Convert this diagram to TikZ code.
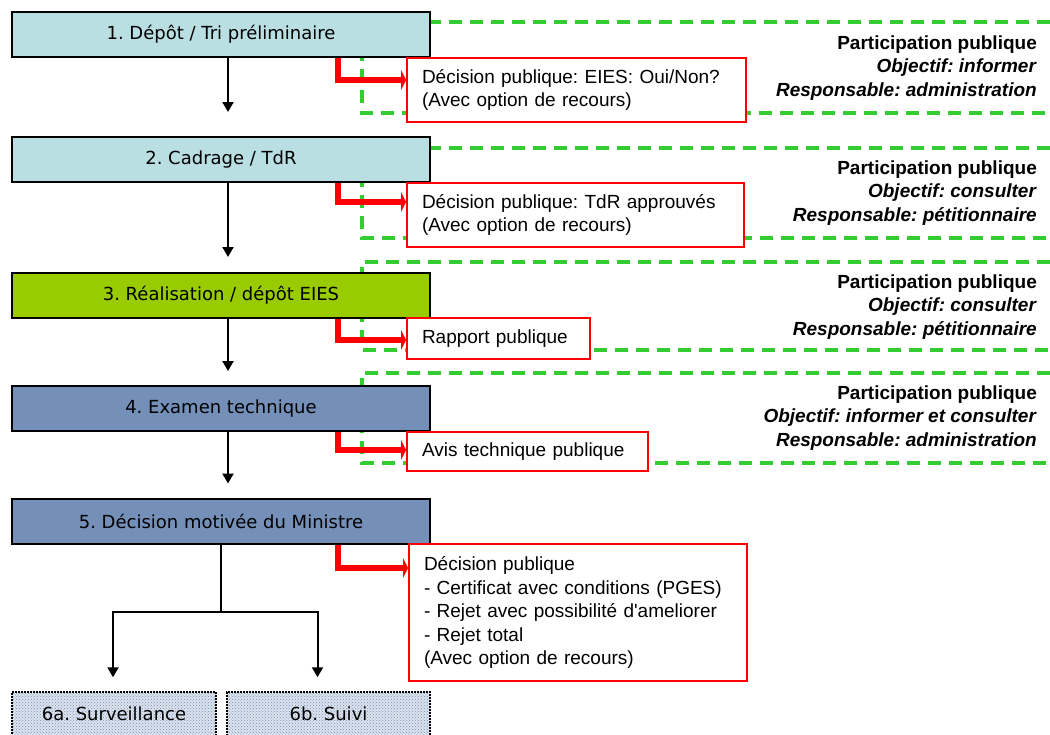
\documentclass[tikz,border=0pt]{standalone}
\usepackage{fontspec}
\setmainfont{Liberation Sans}
\newfontfamily\dejavu{DejaVu Sans}
\frenchspacing
\usetikzlibrary{arrows.meta}
\usetikzlibrary{patterns}
\definecolor{cyanpale}{RGB}{185,223,226}
\definecolor{vertpomme}{RGB}{153,204,0}
\definecolor{bleuacier}{RGB}{116,144,184}
\definecolor{vertpp}{RGB}{51,204,51}
\tikzset{etape/.style={draw,line width=2pt,minimum width=418pt,minimum height=45pt,inner sep=0pt,font=\dejavu\fontsize{18}{22}\selectfont}}
\tikzset{decision/.style={draw=red,line width=2pt,fill=white,anchor=north west,inner xsep=15pt,inner ysep=4pt,align=left,font=\fontsize{19}{23.5}\selectfont}}
\tikzset{suivi/.style={draw,line width=1.5pt,dash pattern=on 2pt off 1pt,preaction={fill=bleuacier!25},pattern=crosshatch dots,pattern color=bleuacier,minimum height=44pt,inner sep=0pt,font=\dejavu\fontsize{18}{22}\selectfont}}
\tikzset{particip/.style={anchor=east,align=right,inner sep=0pt,font=\bfseries\fontsize{19}{23.5}\selectfont}}
\tikzset{zonepp/.style={draw=vertpp,line width=4.5pt,dash pattern=on 13pt off 8pt}}
\tikzset{fleche/.style={line width=2pt,-{Triangle[width=11pt,length=10pt]}}}
\tikzset{coude/.style={red,line width=6pt,-{Triangle[width=20pt,length=5pt]}}}

\begin{document}
\begin{tikzpicture}[x=1pt,y=-1pt]
\useasboundingbox (0,0) rectangle (1050,734);
\fill[white] (0,0) rectangle (1050,734);
\draw[zonepp] (1050,22) -| (362,113) -- (1050,113);
\draw[zonepp] (1050,148) -| (362,238) -- (1050,238);
\draw[zonepp] (1050,262) -| (362,350) -- (1050,350);
\draw[zonepp] (1050,373) -| (362,463) -- (1050,463);
\node[etape,fill=cyanpale] (e1) at (221,34.5) {1. Dépôt / Tri préliminaire};
\node[etape,fill=cyanpale] (e2) at (221,159.5) {2. Cadrage / TdR};
\node[etape,fill=vertpomme] (e3) at (221,295.5) {3. Réalisation / dépôt EIES};
\node[etape,fill=bleuacier] (e4) at (221,408.5) {4. Examen technique};
\node[etape,fill=bleuacier] (e5) at (221,521) {5. Décision motivée du Ministre};
\node[decision,text width=309pt,minimum height=64pt] (r1) at (406,57) {Décision publique: EIES: Oui/Non?\\(Avec option de recours)};
\node[decision,text width=307pt,minimum height=64pt] (r2) at (406,182) {Décision publique: TdR approuvés\\(Avec option de recours)};
\node[decision,text width=153pt,minimum height=41pt] (r3) at (406,317) {Rapport publique};
\node[decision,text width=211pt,minimum height=39pt] (r4) at (406,431) {Avis technique publique};
\node[decision,text width=308pt,minimum height=137pt] (r5) at (408,543) {Décision publique\\- Certificat avec conditions (PGES)\\- Rejet avec possibilité d\textquotesingle ameliorer\\- Rejet total\\(Avec option de recours)};
\node[particip] (p1) at (1037,68) {Participation publique\\\textit{Objectif: informer}\\\textit{Responsable: administration}};
\node[particip] (p2) at (1037,193) {Participation publique\\\textit{Objectif: consulter}\\\textit{Responsable: pétitionnaire}};
\node[particip] (p3) at (1037,307) {Participation publique\\\textit{Objectif: consulter}\\\textit{Responsable: pétitionnaire}};
\node[particip] (p4) at (1037,418) {Participation publique\\\textit{Objectif: informer et consulter}\\\textit{Responsable: administration}};
\node[suivi,minimum width=204pt] (s6a) at (114,714) {6a. Surveillance};
\node[suivi,minimum width=203pt] (s6b) at (328.5,714) {6b. Suivi};
\draw[fleche,shorten >=24pt] ([xshift=7pt]e1.south) -- ([xshift=7pt]e2.north);
\draw[fleche,shorten >=15pt] ([xshift=7pt]e2.south) -- ([xshift=7pt]e3.north);
\draw[fleche,shorten >=14pt] ([xshift=7pt]e3.south) -- ([xshift=7pt]e4.north);
\draw[fleche,shorten >=14pt] ([xshift=7pt]e4.south) -- ([xshift=7pt]e5.north);
\draw[coude] ([xshift=-93pt]e1.south east) |- ([yshift=-23pt]r1.north west);
\draw[coude] ([xshift=-93pt]e2.south east) |- ([yshift=-20pt]r2.north west);
\draw[coude] ([xshift=-93pt]e3.south east) |- ([yshift=-23pt]r3.north west);
\draw[coude] ([xshift=-93pt]e4.south east) |- ([yshift=-19pt]r4.north west);
\draw[coude] ([xshift=-93pt]e5.south east) |- ([yshift=-25pt]r5.north west);
\coordinate (fourche) at (221,612);
\draw[line width=2pt] (e5.south) -- (fourche);
\draw[fleche,shorten >=14pt] (fourche) -| ([xshift=-1pt]s6a.north);
\draw[fleche,shorten >=14pt] (fourche) -| ([xshift=-11pt]s6b.north);
\end{tikzpicture}
\end{document}
